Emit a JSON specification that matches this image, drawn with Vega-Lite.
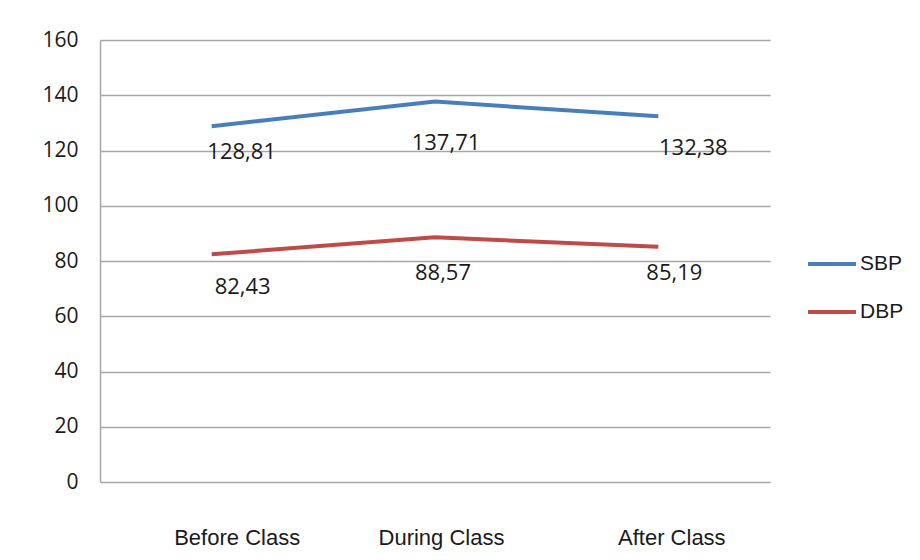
{
  "$schema": "https://vega.github.io/schema/vega-lite/v6.json",
  "autosize": {"type": "none"},
  "width": 670,
  "height": 442,
  "padding": {"left": 100, "top": 40, "right": 150, "bottom": 78},
  "background": "white",
  "config": {
    "view": {"stroke": null},
    "locale": {"number": {"decimal": ",", "thousands": ".", "grouping": [3], "currency": ["", ""]}}
  },
  "data": {
    "values": [
      {"time": "Before Class", "series": "SBP", "value": 128.81},
      {"time": "During Class", "series": "SBP", "value": 137.71},
      {"time": "After Class", "series": "SBP", "value": 132.38},
      {"time": "Before Class", "series": "DBP", "value": 82.43},
      {"time": "During Class", "series": "DBP", "value": 88.57},
      {"time": "After Class", "series": "DBP", "value": 85.19}
    ]
  },
  "encoding": {
    "x": {
      "field": "time", "type": "nominal",
      "sort": ["Before Class", "During Class", "After Class"],
      "scale": {"type": "point", "padding": 0.5},
      "axis": {
        "title": null, "labelAngle": 0, "domain": false, "ticks": false, "grid": false,
        "labelFont": "Liberation Sans", "labelFontSize": 22, "labelColor": "#1a1a1a",
        "labelBaseline": "top", "labelPadding": 45,
        "labelOffset": {"condition": [{"test": "datum.value === 'Before Class'", "value": 25}, {"test": "datum.value === 'After Class'", "value": 13}], "value": 6}
      }
    },
    "y": {
      "field": "value", "type": "quantitative",
      "scale": {"domain": [0, 160], "nice": false},
      "axis": {
        "title": null, "values": [0, 20, 40, 60, 80, 100, 120, 140, 160],
        "ticks": false, "domain": true, "domainColor": "#a6a6a6", "domainWidth": 1.5,
        "grid": true, "gridColor": "#a6a6a6", "gridWidth": 1.5,
        "labelFont": "Open Sans", "labelFontSize": 21, "labelColor": "#1a1a1a", "labelPadding": 22
      }
    }
  },
  "layer": [
    {
      "mark": {"type": "line", "strokeWidth": 4},
      "encoding": {
        "color": {
          "field": "series", "type": "nominal",
          "scale": {"domain": ["SBP", "DBP"], "range": ["#4A7EBB", "#BE4B48"]},
          "legend": {
            "title": null, "orient": "none", "legendX": 706, "legendY": 198,
            "symbolType": "stroke", "symbolSize": 2304, "symbolStrokeWidth": 4,
            "labelFont": "Liberation Sans", "labelFontSize": 21, "labelColor": "#1a1a1a",
            "labelOffset": 2, "rowPadding": 12
          }
        }
      }
    },
    {
      "transform": [{"filter": "datum.time === 'Before Class' && datum.series === 'SBP'"}],
      "mark": {"type": "text", "font": "Open Sans", "fontSize": 22, "color": "#1a1a1a", "baseline": "middle", "dx": 30, "dy": 26},
      "encoding": {"text": {"field": "value", "type": "quantitative", "format": ".2f"}}
    },
    {
      "transform": [{"filter": "datum.time === 'During Class' && datum.series === 'SBP'"}],
      "mark": {"type": "text", "font": "Open Sans", "fontSize": 22, "color": "#1a1a1a", "baseline": "middle", "dx": 11, "dy": 41},
      "encoding": {"text": {"field": "value", "type": "quantitative", "format": ".2f"}}
    },
    {
      "transform": [{"filter": "datum.time === 'After Class' && datum.series === 'SBP'"}],
      "mark": {"type": "text", "font": "Open Sans", "fontSize": 22, "color": "#1a1a1a", "baseline": "middle", "dx": 35, "dy": 32},
      "encoding": {"text": {"field": "value", "type": "quantitative", "format": ".2f"}}
    },
    {
      "transform": [{"filter": "datum.time === 'Before Class' && datum.series === 'DBP'"}],
      "mark": {"type": "text", "font": "Open Sans", "fontSize": 22, "color": "#1a1a1a", "baseline": "middle", "dx": 31, "dy": 33},
      "encoding": {"text": {"field": "value", "type": "quantitative", "format": ".2f"}}
    },
    {
      "transform": [{"filter": "datum.time === 'During Class' && datum.series === 'DBP'"}],
      "mark": {"type": "text", "font": "Open Sans", "fontSize": 22, "color": "#1a1a1a", "baseline": "middle", "dx": 8, "dy": 36},
      "encoding": {"text": {"field": "value", "type": "quantitative", "format": ".2f"}}
    },
    {
      "transform": [{"filter": "datum.time === 'After Class' && datum.series === 'DBP'"}],
      "mark": {"type": "text", "font": "Open Sans", "fontSize": 22, "color": "#1a1a1a", "baseline": "middle", "dx": 16, "dy": 26},
      "encoding": {"text": {"field": "value", "type": "quantitative", "format": ".2f"}}
    }
  ]
}
